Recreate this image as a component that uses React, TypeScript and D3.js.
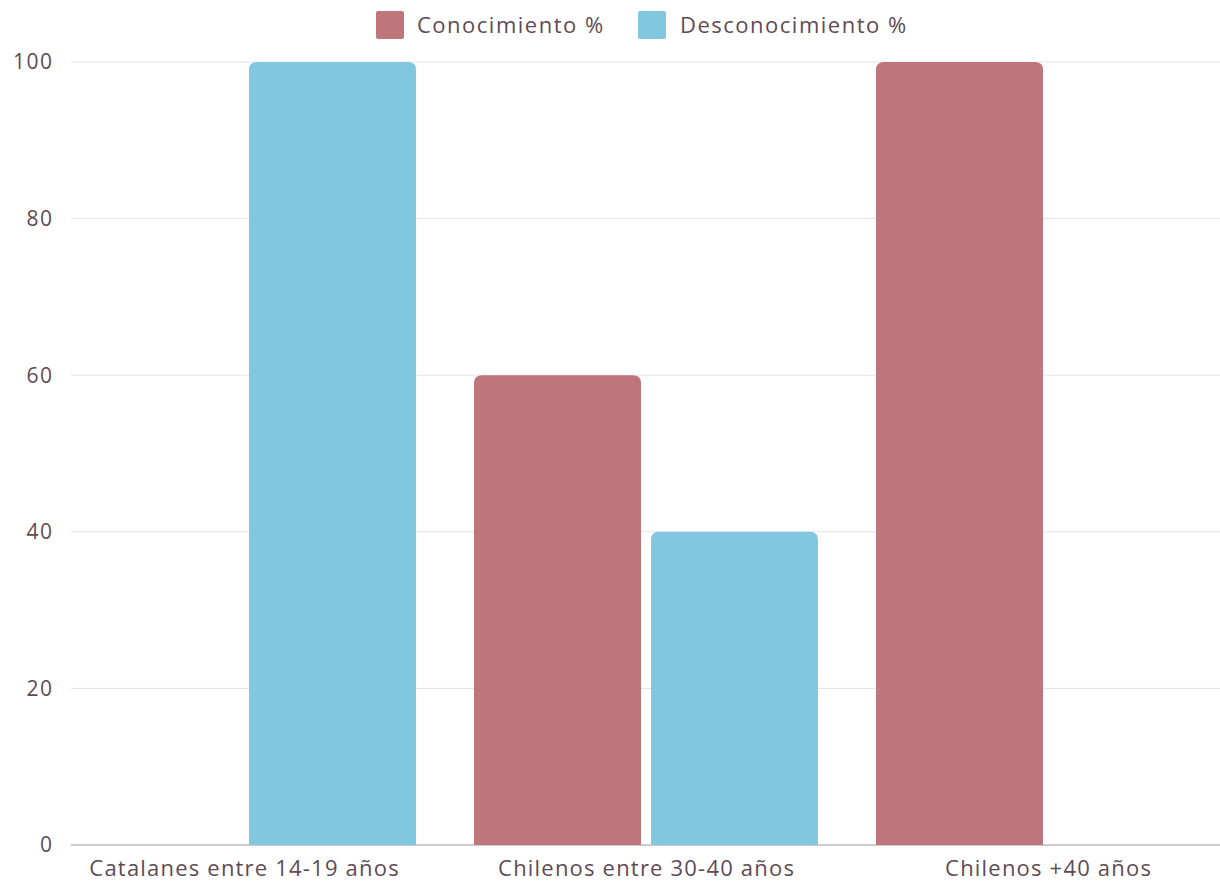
import React from "react";
import * as d3 from "d3";

const categories = ["Catalanes entre 14-19 años", "Chilenos entre 30-40 años", "Chilenos +40 años"];
const seriesNames = ["Conocimiento %", "Desconocimiento %"];
const conocimiento = [0, 60, 100];
const desconocimiento = [100, 40, 0];
const yTicks = [0, 20, 40, 60, 80, 100];
const colors = ["#bf767b", "#82c7e0"];

const W = 1220, H = 881;
const FONT = "'Open Sans', 'Noto Sans', sans-serif";
const TEXT = "#5e4b55";

function topRoundedRect(x: number, y: number, w: number, h: number, r: number) {
  if (h <= 0) return "";
  const rr = Math.min(r, h, w / 2);
  return `M${x},${y + h}V${y + rr}Q${x},${y} ${x + rr},${y}H${x + w - rr}Q${x + w},${y} ${x + w},${y + rr}V${y + h}Z`;
}

export default function App() {
  const series = [conocimiento, desconocimiento];
  const x0 = d3.scaleBand<string>().domain(categories).range([43, 1249]).padding(0);
  const groupW = 344;
  const x1 = d3.scaleBand<string>().domain(seriesNames).range([0, groupW]).paddingInner(10 / 177).paddingOuter(0);
  const y = d3.scaleLinear().domain([0, 100]).range([845, 62]);

  return (
    <svg width={W} height={H} style={{ position: "absolute", left: 0, top: 0 }}>
      <rect width={W} height={H} fill="#fff" />
      {yTicks.map((t) => (
        <g key={t}>
          <line x1={71} x2={1220} y1={y(t)} y2={y(t)} stroke={t === 0 ? "#cfc8cc" : "#e4e4e4"} strokeWidth={t === 0 ? 2 : 1} />
          <text x={53.5} y={y(t)} dy="0.35em" textAnchor="end" fontFamily={FONT} fontSize={21} letterSpacing={1.5} fill={TEXT}>{t}</text>
        </g>
      ))}
      {categories.map((c, i) => {
        const cx = (x0(c) as number) + x0.bandwidth() / 2;
        return (
          <g key={c}>
            {seriesNames.map((s, j) => {
              const v = series[j][i];
              const bx = cx - groupW / 2 + (x1(s) as number);
              const by = y(v);
              return <path key={s} d={topRoundedRect(bx, by, x1.bandwidth(), y(0) - by, 8)} fill={colors[j]} />;
            })}
            <text x={cx + 0.6} y={876} textAnchor="middle" fontFamily={FONT} fontSize={22} letterSpacing={1.2} fill={TEXT}>{c}</text>
          </g>
        );
      })}
      <g>
        <rect x={376} y={11} width={28} height={28} rx={2} fill={colors[0]} />
        <text x={417} y={25} dy="0.35em" fontFamily={FONT} fontSize={22} letterSpacing={1.5} fill={TEXT}>{seriesNames[0]}</text>
        <rect x={638} y={11} width={28} height={28} rx={2} fill={colors[1]} />
        <text x={680} y={25} dy="0.35em" fontFamily={FONT} fontSize={22} letterSpacing={1.5} fill={TEXT}>{seriesNames[1]}</text>
      </g>
    </svg>
  );
}
